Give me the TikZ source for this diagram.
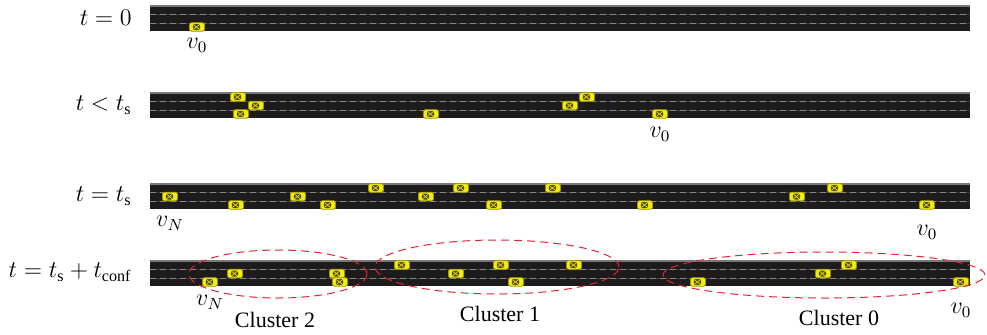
\documentclass[tikz,border=0pt]{standalone}
\usepackage{fontspec}
\setmainfont{Liberation Serif}
\usetikzlibrary{positioning,shapes.geometric}
\definecolor{asphalt}{RGB}{30,27,28}
\definecolor{roadedge}{RGB}{120,120,120}
\definecolor{laneline}{RGB}{135,135,135}
\definecolor{carbody}{RGB}{242,236,25}
\definecolor{carrim}{RGB}{160,150,0}
\definecolor{carmark}{RGB}{85,78,0}
\definecolor{clusterred}{RGB}{228,35,55}

\begin{document}
\begin{tikzpicture}[
    x=0.5pt, y=-0.5pt,
    timelabel/.style={font=\fontsize{11.5}{14}\selectfont, anchor=east, inner sep=0pt},
    vehlabel/.style={font=\fontsize{11.5}{14}\selectfont, inner sep=0pt},
    lanemark/.style={laneline, line width=0.45pt, dash pattern=on 3pt off 2pt},
    lanefaint/.style={laneline, line width=0.3pt, opacity=0.3},
    car/.style={draw=carrim, fill=carbody, line width=0.4pt, rounded corners=1pt,
        minimum width=7.5pt, minimum height=4.3pt, inner sep=0pt,
        path picture={
            \fill[carmark] ([xshift=-2.1pt,yshift=-1.5pt]path picture bounding box.center)
                rectangle ([xshift=1.5pt,yshift=1.5pt]path picture bounding box.center);
            \draw[carbody, line width=0.3pt] ([xshift=-1.7pt,yshift=-1.1pt]path picture bounding box.center)
                -- ([xshift=1.1pt,yshift=1.1pt]path picture bounding box.center)
                ([xshift=-1.7pt,yshift=1.1pt]path picture bounding box.center)
                -- ([xshift=1.1pt,yshift=-1.1pt]path picture bounding box.center);
        }},
    cluster/.style={ellipse, draw=clusterred, line width=0.5pt, dash pattern=on 4pt off 2.5pt, inner sep=0pt},
    clusterlabel/.style={font=\fontsize{11}{13}\selectfont}
]
\useasboundingbox (0,0) rectangle (987,334);

% Four snapshots of the same road
\foreach \ry in {6,93,184,261} {
    \fill[asphalt] (150,\ry) rectangle (970,\ry+25);
    \draw[roadedge, line width=0.6pt] (150,\ry) -- (970,\ry);
    \draw[lanefaint] (150,\ry+8.5) -- (970,\ry+8.5);
    \draw[lanefaint] (150,\ry+17) -- (970,\ry+17);
    \draw[lanemark] (150,\ry+8.5) -- (970,\ry+8.5);
    \draw[lanemark] (150,\ry+17) -- (970,\ry+17);
}

% Time stamps
\node[timelabel] (lab0) at (132,18) {$t=0$};
\node[timelabel] (lab1) at (132,105) {$t<t_\mathrm{s}$};
\node[timelabel] (lab2) at (132,196) {$t=t_\mathrm{s}$};
\node[timelabel] (lab3) at (132,272) {$t=t_\mathrm{s}+t_\mathrm{conf}$};

% Vehicles (x position / lane)
\node[car] (r1car1) at (197,27) {};

\foreach \x/\l [count=\i] in {238/1, 256/2, 241/3, 431/3, 587/1, 570/2, 660/3}
    \node[car] (r2car\i) at (\x,{93+4+(\l-1)*8.5}) {};

\foreach \x/\l [count=\i] in {170/2, 236/3, 298/2, 328/3, 376/1, 426/2, 461/1,
        494/3, 553/1, 645/3, 797/2, 835/1, 927/3}
    \node[car] (r3car\i) at (\x,{184+4+(\l-1)*8.5}) {};

\foreach \x/\l [count=\i] in {210/3, 235/2, 337/2, 340/3, 402/1, 456/2, 501/1,
        516/3, 574/1, 698/3, 823/2, 849/1, 961/3}
    \node[car] (r4car\i) at (\x,{261+4+(\l-1)*8.5}) {};

% Leader and tail vehicles
\node[vehlabel, below=3pt of r1car1] (v0a) {$v_0$};
\node[vehlabel, below=4pt of r2car7] (v0b) {$v_0$};
\node[vehlabel, below=7.5pt of r3car1] (vNc) {$v_N$};
\node[vehlabel, below=7.5pt of r3car13] (v0c) {$v_0$};
\node[vehlabel, below=4pt of r4car1] (vNd) {$v_N$};
\node[vehlabel, below=8pt of r4car13] (v0d) {$v_0$};

% Clusters
\node[cluster, minimum width=89pt, minimum height=24pt] (cl2) at (278,274) {};
\node[cluster, minimum width=122pt, minimum height=27pt] (cl1) at (497,267) {};
\node[cluster, minimum width=161pt, minimum height=23pt] (cl0) at (824,275) {};
\node[clusterlabel] (cl2text) at (275,320) {Cluster 2};
\node[clusterlabel] (cl1text) at (500,314) {Cluster 1};
\node[clusterlabel] (cl0text) at (839,318) {Cluster 0};

\end{tikzpicture}
\end{document}
